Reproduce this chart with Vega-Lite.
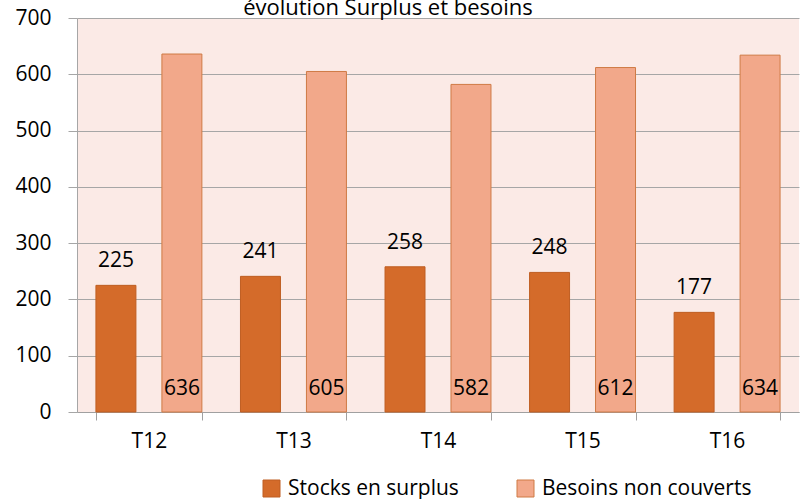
{
  "$schema": "https://vega.github.io/schema/vega-lite/v6.json",
  "autosize": {"type": "none"},
  "width": 722,
  "height": 394,
  "padding": {"left": 77, "top": 18, "right": 1, "bottom": 87},
  "background": "white",
  "title": {"text": "évolution Surplus et besoins", "fontSize": 22, "font": "Open Sans", "fontWeight": "normal", "color": "black", "anchor": "middle", "dx": -50, "offset": -30, "baseline": "alphabetic"},
  "config": {
    "view": {"fill": "#FBEAE6", "stroke": null},
    "font": "Open Sans"
  },
  "data": {"values": [
    {"periode": "T12", "serie": "Stocks en surplus", "valeur": 225},
    {"periode": "T12", "serie": "Besoins non couverts", "valeur": 636},
    {"periode": "T13", "serie": "Stocks en surplus", "valeur": 241},
    {"periode": "T13", "serie": "Besoins non couverts", "valeur": 605},
    {"periode": "T14", "serie": "Stocks en surplus", "valeur": 258},
    {"periode": "T14", "serie": "Besoins non couverts", "valeur": 582},
    {"periode": "T15", "serie": "Stocks en surplus", "valeur": 248},
    {"periode": "T15", "serie": "Besoins non couverts", "valeur": 612},
    {"periode": "T16", "serie": "Stocks en surplus", "valeur": 177},
    {"periode": "T16", "serie": "Besoins non couverts", "valeur": 634}
  ]},
  "encoding": {
    "x": {"field": "periode", "type": "nominal", "scale": {"paddingInner": 0.267, "paddingOuter": 0.131},
      "axis": {"title": null, "labelAngle": 0, "labelFontSize": 21, "labelColor": "black", "tickBand": "extent", "tickSize": 8, "tickColor": "#A0A0A0", "domainColor": "#A0A0A0", "labelPadding": 10}},
    "xOffset": {"field": "serie", "type": "nominal", "scale": {"domain": ["Stocks en surplus", "Besoins non couverts"], "paddingInner": 0.394, "paddingOuter": 0}}
  },
  "layer": [
    {
      "mark": {"type": "bar", "strokeWidth": 1},
      "encoding": {
        "y": {"field": "valeur", "type": "quantitative", "scale": {"domain": [0, 700], "nice": false},
          "axis": {"title": null, "values": [0, 100, 200, 300, 400, 500, 600, 700], "labelFontSize": 21, "labelColor": "black", "gridColor": "#A6A6A6", "domainColor": "#A6A6A6", "tickColor": "#A6A6A6", "tickSize": 9, "labelPadding": 17}},
        "color": {"field": "serie", "type": "nominal", "scale": {"domain": ["Stocks en surplus", "Besoins non couverts"], "range": ["#D46B2A", "#F2A88A"]},
          "legend": {"title": null, "orient": "none", "legendX": 184, "legendY": 460, "direction": "horizontal", "symbolType": "square", "symbolSize": 289, "symbolStrokeWidth": 1, "labelFontSize": 21, "labelColor": "black", "labelOffset": 6, "labelLimit": 0, "columnPadding": 56}},
        "stroke": {"field": "serie", "type": "nominal", "scale": {"domain": ["Stocks en surplus", "Besoins non couverts"], "range": ["#BF5E22", "#CF7A45"]}, "legend": null}
      }
    },
    {
      "transform": [{"filter": "datum.serie == 'Stocks en surplus'"}],
      "mark": {"type": "text", "fontSize": 21, "baseline": "alphabetic", "dy": -18, "color": "black"},
      "encoding": {
        "y": {"field": "valeur", "type": "quantitative"},
        "text": {"field": "valeur", "type": "quantitative"}
      }
    },
    {
      "transform": [{"filter": "datum.serie == 'Besoins non couverts'"}],
      "mark": {"type": "text", "fontSize": 21, "baseline": "alphabetic", "dy": -17, "color": "black"},
      "encoding": {
        "y": {"datum": 0, "type": "quantitative"},
        "text": {"field": "valeur", "type": "quantitative"}
      }
    }
  ]
}
